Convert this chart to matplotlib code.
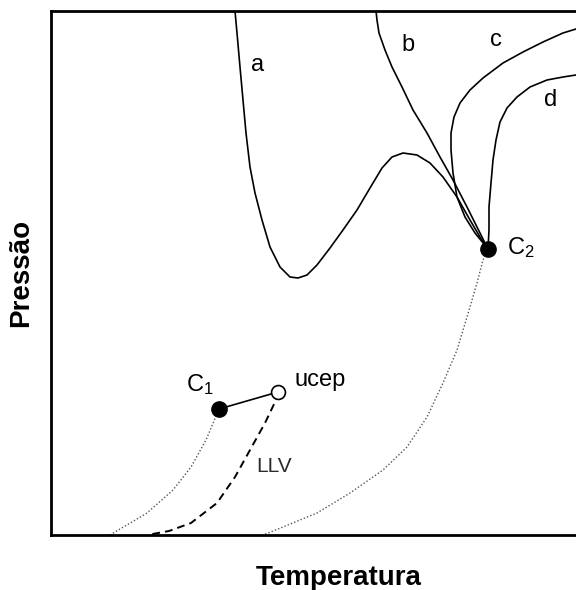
import matplotlib
matplotlib.use("Agg")
import matplotlib.pyplot as plt

plt.rcParams['font.family'] = ['Liberation Sans', 'DejaVu Sans']
plt.rcParams['mathtext.fontset'] = 'custom'
plt.rcParams['mathtext.rm'] = 'Liberation Sans'
plt.rcParams['mathtext.it'] = 'Liberation Sans'

# --- data (schematic T, P units) ---
curve_a_T = [184, 186, 189, 192, 195, 199, 204, 211, 219, 229, 239, 247, 256, 266, 279, 292, 306,
             319, 331, 341, 352, 366, 379, 392, 406, 419, 429, 437]
curve_a_P = [524, 502, 468, 435, 402, 368, 342, 315, 288, 268, 258, 257, 260, 270, 287, 305, 325,
             347, 367, 378, 382, 380, 372, 358, 338, 315, 298, 286]

curve_b_T = [325, 326, 328, 334, 341, 351, 362, 376, 389, 402, 416, 426, 437]
curve_b_P = [524, 515, 502, 485, 468, 448, 425, 402, 378, 355, 328, 308, 286]

curve_c_T = [525, 512, 492, 472, 452, 432, 419, 409, 403, 400, 400, 402, 406, 414, 424, 437]
curve_c_P = [506, 502, 493, 483, 472, 457, 445, 432, 418, 402, 385, 362, 338, 318, 302, 286]

curve_d_T = [525, 512, 496, 479, 466, 456, 449, 445, 442, 440, 438, 438, 437]
curve_d_P = [460, 458, 455, 448, 438, 427, 413, 395, 375, 352, 328, 305, 286]

vap2_T = [437, 432, 426, 416, 406, 392, 376, 356, 332, 299, 266, 232, 212]
vap2_P = [286, 275, 252, 218, 185, 152, 118, 88, 65, 42, 22, 8, 0]

vap1_T = [168, 155, 140, 122, 96, 59]
vap1_P = [126, 95, 68, 45, 22, 0]

llv_T = [227, 225, 214, 199, 184, 166, 140, 118, 96]
llv_P = [143, 135, 112, 85, 58, 32, 12, 4, 0]

c1 = (168, 126)
c2 = (437, 286)
ucep = (227, 143)

fig = plt.figure(figsize=(5.76, 5.90), dpi=100)
ax = fig.add_axes([51/576, 55/590, 576/576, 524/590])
ax.set_xlim(0, 576)
ax.set_ylim(0, 524)
ax.set_xticks([])
ax.set_yticks([])
for s in ax.spines.values():
    s.set_linewidth(2.0)
    s.set_color('black')

lw = 1.2
for T, P in [(curve_a_T, curve_a_P), (curve_b_T, curve_b_P),
             (curve_c_T, curve_c_P), (curve_d_T, curve_d_P)]:
    ax.plot(T, P, color='black', lw=lw, solid_joinstyle='round')

ax.plot(vap2_T, vap2_P, color='#555555', lw=1.0, linestyle=(0, (1, 1.5)))
ax.plot(vap1_T, vap1_P, color='#555555', lw=1.0, linestyle=(0, (1, 1.5)))
ax.plot(llv_T, llv_P, color='black', lw=1.4, linestyle=(0, (4, 2.6)))

ax.plot([c1[0], ucep[0]], [c1[1], ucep[1]], color='black', lw=1.2)
ax.plot(*c1, 'o', color='black', markersize=11, zorder=5)
ax.plot(*c2, 'o', color='black', markersize=11, zorder=5)
ax.plot(*ucep, 'o', markerfacecolor='white', markeredgecolor='black', markersize=10,
        markeredgewidth=1.2, zorder=5)

fs = 17
ax.text(207, 470, 'a', fontsize=fs, ha='center', va='center')
ax.text(357, 490, 'b', fontsize=fs, ha='center', va='center')
ax.text(445, 495, 'c', fontsize=fs, ha='center', va='center')
ax.text(500, 435, 'd', fontsize=fs, ha='center', va='center')
ax.text(456, 287, r'C$_\mathregular{2}$', fontsize=fs, ha='left', va='center')
ax.text(135, 150, r'C$_\mathregular{1}$', fontsize=fs, ha='left', va='center')
ax.text(244, 155, 'ucep', fontsize=fs, ha='left', va='center')
ax.text(205, 68, 'LLV', fontsize=15, ha='left', va='center', color='#2a2a2a')

ax.set_xlabel('Temperatura', fontsize=20, fontweight='bold')
ax.set_ylabel('Pressão', fontsize=20, fontweight='bold')
ax.xaxis.set_label_coords((339 - 51) / 576, -30 / 524)
ax.yaxis.set_label_coords(-(51 - 34) / 576, 0.5)

fig.savefig('out.png', dpi=100)
